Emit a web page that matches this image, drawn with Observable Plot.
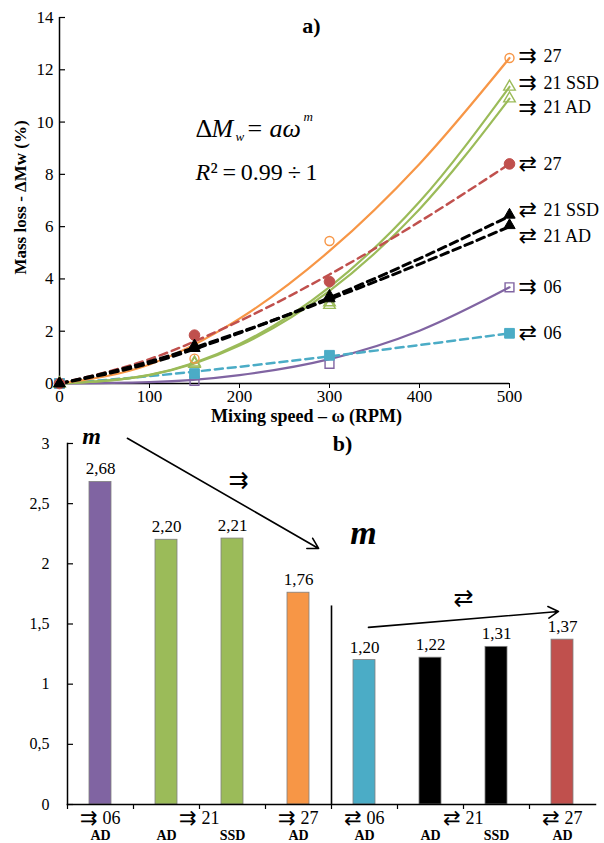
<!DOCTYPE html>
<html><head><meta charset="utf-8">
<script src="https://cdn.jsdelivr.net/npm/d3@7"></script>
<script src="https://cdn.jsdelivr.net/npm/@observablehq/plot@0.6"></script>
<style>
body{margin:0;background:#fff;overflow:hidden}
#chart svg{display:block}
</style>
</head><body><div id="chart"></div>
<script>
// ---------- DATA: panel a) ----------
const speeds = [0, 150, 300, 500];              // measured mixing speeds (RPM)
const fitSpeeds = [0, 100, 200, 300, 400, 500]; // speeds where the fitted curves were read
const xTicksA = [0, 100, 200, 300, 400, 500];
const yTicksA = [0, 2, 4, 6, 8, 10, 12, 14];

const measP27    = [0, 0.95, 5.45, 12.45];
const measP21SSD = [0, 0.80, 3.10, 11.35];
const measP21AD  = [0, 0.75, 3.00, 10.90];
const measP06    = [0, 0.10, 0.75, 3.68];
const measO27    = [0, 1.85, 3.90, 8.40];
const measO21SSD = [0, 1.45, 3.35, 6.45];
const measO21AD  = [0, 1.35, 3.25, 6.05];
const measO06    = [0, 0.38, 1.08, 1.92];

const fitP27    = [0, 0.73, 2.48, 5.07, 8.40, 12.45];
const fitP21SSD = [0, 0.33, 1.51, 3.69, 6.95, 11.35];
const fitP21AD  = [0, 0.32, 1.45, 3.54, 6.67, 10.90];
const fitP06    = [0, 0.05, 0.32, 0.93, 2.02, 3.68];
const fitO27    = [0, 0.93, 2.39, 4.17, 6.19, 8.40];
const fitO21SSD = [0, 0.77, 1.93, 3.28, 4.78, 6.40];
const fitO21AD  = [0, 0.84, 1.96, 3.22, 4.57, 6.00];
const fitO06    = [0, 0.28, 0.64, 1.04, 1.47, 1.92];

const seriesArrows = ["⇉", "⇄", "⇉", "⇉", "⇉", "⇄", "⇄", "⇄"];
const seriesNames  = ["06", "06", "21 AD", "21 SSD", "27", "27", "21 AD", "21 SSD"];

// ---------- DATA: panel b) ----------
const barCats = ["⇉06 AD", "⇉21 AD", "⇉21 SSD", "⇉27 AD", "⇄06 AD", "⇄21 AD", "⇄21 SSD", "⇄27 AD"];
const mValues = [2.68, 2.20, 2.21, 1.76, 1.20, 1.22, 1.31, 1.37];
const subLabels = ["AD", "AD", "SSD", "AD", "AD", "AD", "SSD", "AD"];
const groupArrows = ["⇉", "⇉", "⇉", "⇄", "⇄", "⇄"];
const groupNumbers = ["06", "21", "27", "06", "21", "27"];
const groupCats = ["⇉06 AD", "⇉21 AD", "⇉27 AD", "⇄06 AD", "⇄21 AD", "⇄27 AD"];
const yTicksB = [0, 0.5, 1, 1.5, 2, 2.5, 3];

// ---------- STYLES ----------
const serif = "'Liberation Serif','Times New Roman','DejaVu Serif',serif";
const arrowFont = "'DejaVu Sans',sans-serif";
const C = {orange:"#F79646", green:"#9BBB59", red:"#C0504D", black:"#000000", purple:"#8064A2", cyan:"#4BACC6"};
const seriesStyle = [
  {meas: measP06,    fit: fitP06,    color: C.purple, symbol: "square",   filled: false, dashed: false, r: 5,   labelDy: 0},
  {meas: measO06,    fit: fitO06,    color: C.cyan,   symbol: "square",   filled: true,  dashed: true,  r: 5.5, labelDy: 0},
  {meas: measP21AD,  fit: fitP21AD,  color: C.green,  symbol: "triangle", filled: false, dashed: false, r: 4.3, labelDy: 9},
  {meas: measP21SSD, fit: fitP21SSD, color: C.green,  symbol: "triangle", filled: false, dashed: false, r: 4.3, labelDy: -4},
  {meas: measP27,    fit: fitP27,    color: C.orange, symbol: "circle",   filled: false, dashed: false, r: 4.5, labelDy: -2},
  {meas: measO27,    fit: fitO27,    color: C.red,    symbol: "circle",   filled: true,  dashed: true,  r: 5.3, labelDy: 0},
  {meas: measO21AD,  fit: fitO21AD,  color: C.black,  symbol: "triangle", filled: true,  dashed: true,  r: 4.2, labelDy: 11},
  {meas: measO21SSD, fit: fitO21SSD, color: C.black,  symbol: "triangle", filled: true,  dashed: true,  r: 4.2, labelDy: -5}
];
seriesStyle.forEach((s, i) => { s.arrow = seriesArrows[i]; s.name = seriesNames[i]; });

const W = 604;
const mA = {top: 17, right: 95, bottom: 42, left: 59};
const HA = 425;
const frameWA = W - mA.left - mA.right;
const lastIdx = speeds.length - 1;

const lineMarks = seriesStyle.map(s => Plot.line(
  s.fit.map((v, i) => ({x: fitSpeeds[i], y: v})),
  {x: "x", y: "y", curve: "monotone-x", stroke: s.color,
   strokeWidth: s.dashed ? (s.color === C.black ? 3 : 2.5) : 2.2,
   strokeDasharray: s.dashed ? "8,5" : null}
));
const dotMarks = seriesStyle.map(s => Plot.dot(
  s.meas.map((v, i) => ({x: speeds[i], y: v})),
  {x: "x", y: "y", symbol: s.symbol, r: s.r,
   fill: s.filled ? s.color : "none", stroke: s.color, strokeWidth: s.filled ? 1 : 1.4}
));
const labelMarks = seriesStyle.flatMap(s => [
  Plot.text([s], {x: () => speeds[lastIdx], y: d => d.meas[lastIdx], text: "arrow", dx: 9, dy: s.labelDy,
    textAnchor: "start", lineAnchor: "middle", fontSize: 22, fontFamily: arrowFont}),
  Plot.text([s], {x: () => speeds[lastIdx], y: d => d.meas[lastIdx], text: "name", dx: 34, dy: s.labelDy,
    textAnchor: "start", lineAnchor: "middle", fontSize: 18, fontFamily: serif})
]);
const ann = (txt, o) => Plot.text([txt], {frameAnchor: "top-left", textAnchor: "start", lineAnchor: "middle", ...o});

const plotA = Plot.plot({
  width: W, height: HA,
  marginTop: mA.top, marginRight: mA.right, marginBottom: mA.bottom, marginLeft: mA.left,
  style: {fontFamily: serif, fontSize: "17px", color: "#000", background: "#fff", overflow: "visible"},
  x: {domain: [0, 500]},
  y: {domain: [0, 14]},
  marks: [
    Plot.axisX({ticks: xTicksA, tickSize: 5, tickPadding: 1, label: null, fontSize: 17}),
    Plot.axisY({ticks: yTicksA, tickSize: 0, tickPadding: 6, label: null, fontSize: 17}),
    Plot.tickY(yTicksA, {y: d => d, insetRight: frameWA - 6, stroke: "#000", strokeWidth: 1.2}),
    Plot.ruleX([0], {stroke: "#000", strokeWidth: 1.5}),
    Plot.ruleY([0], {stroke: "#000", strokeWidth: 1.5}),
    ...lineMarks,
    ...dotMarks,
    ...labelMarks,
    Plot.text(["Mass loss - ΔMw (%)"], {frameAnchor: "left", textAnchor: "middle", lineAnchor: "middle",
      dx: -39, dy: -3, rotate: -90, fontWeight: "bold", fontSize: 17}),
    Plot.text(["Mixing speed – ω (RPM)"], {frameAnchor: "bottom", textAnchor: "middle", lineAnchor: "middle",
      dy: 33, dx: 22, fontWeight: "bold", fontSize: 18}),
    ann("a)", {dx: 252, dy: 8, textAnchor: "middle", fontWeight: "bold", fontSize: 22}),
    // formula  ΔMw = aω^m
    ann("Δ", {dx: 136, dy: 111, fontSize: 26}),
    ann("M", {dx: 152, dy: 111, fontSize: 26, fontStyle: "italic"}),
    ann("w", {dx: 176, dy: 119, fontSize: 13, fontStyle: "italic"}),
    ann("=", {dx: 188, dy: 111, fontSize: 26}),
    ann("a", {dx: 210, dy: 111, fontSize: 26, fontStyle: "italic"}),
    ann("ω", {dx: 223, dy: 111, fontSize: 26, fontStyle: "italic"}),
    ann("m", {dx: 244, dy: 99, fontSize: 13, fontStyle: "italic"}),
    ann("R", {dx: 136, dy: 155, fontSize: 24, fontStyle: "italic"}),
    ann("²\u2009=\u20090.99\u2009÷\u20091", {dx: 151, dy: 155, fontSize: 24})
  ]
});

// ---------- panel b) ----------
const mB = {top: 18, right: 9, bottom: 39, left: 67};
const HB = 418;
const frameWB = W - mB.left - mB.right;
const frameHB = HB - mB.top - mB.bottom;
const halfBand = frameWB / barCats.length / 2;
const barColors = [C.purple, C.green, C.green, C.orange, C.cyan, C.black, C.black, C.red];
const bars = barCats.map((c, i) => ({cat: c, m: mValues[i], color: barColors[i], sub: subLabels[i]}));
const comma = d => String(d).replace(".", ",");
const groupMarks = groupCats.flatMap((c, i) => {
  const shift = groupNumbers[i] === "21" ? halfBand : 0;
  return [
    Plot.text([c], {x: d => d, text: () => groupArrows[i], frameAnchor: "bottom", textAnchor: "end", lineAnchor: "middle",
      dx: shift - 3, dy: 14, fontSize: 21, fontFamily: arrowFont}),
    Plot.text([c], {x: d => d, text: () => groupNumbers[i], frameAnchor: "bottom", textAnchor: "start", lineAnchor: "middle",
      dx: shift + 2, dy: 14, fontSize: 18, fontFamily: serif})
  ];
});
const annB = (txt, o) => Plot.text([txt], {frameAnchor: "top-left", textAnchor: "middle", lineAnchor: "middle", ...o});

const plotB = Plot.plot({
  width: W, height: HB,
  marginTop: mB.top, marginRight: mB.right, marginBottom: mB.bottom, marginLeft: mB.left,
  style: {fontFamily: serif, fontSize: "16px", color: "#000", background: "#fff", overflow: "visible"},
  x: {type: "band", domain: barCats, padding: 0, axis: null},
  y: {domain: [0, 3]},
  color: {type: "identity"},
  marks: [
    Plot.axisY({ticks: yTicksB, tickSize: 0, tickPadding: 18, tickFormat: comma, label: null, fontSize: 16}),
    Plot.tickY(yTicksB, {y: d => d, insetRight: frameWB - 6, stroke: "#000", strokeWidth: 1.2}),
    Plot.barY(bars, {x: "cat", y: "m", fill: "color", insetLeft: 22, insetRight: 22, stroke: "#7f7f7f", strokeWidth: 0.8}),
    Plot.frame({anchor: "left", stroke: "#000", strokeWidth: 1.5}),
    Plot.frame({anchor: "bottom", stroke: "#000", strokeWidth: 1.5}),
    Plot.tickX(barCats, {x: d => d, dx: -halfBand, insetTop: frameHB, insetBottom: -5, stroke: "#000", strokeWidth: 1.2}),
    Plot.ruleX([barCats[4]], {x: d => d, dx: -halfBand, y1: 0, y2: 1.65, stroke: "#000", strokeWidth: 1.6}),
    Plot.text(bars, {x: "cat", y: "m", text: d => d.m.toFixed(2).replace(".", ","), dy: -13, fontSize: 17}),
    ...groupMarks,
    Plot.text(bars, {x: "cat", text: "sub", frameAnchor: "bottom", lineAnchor: "middle", dy: 31, fontSize: 14, fontWeight: "bold"}),
    // annotations
    annB("m", {dx: 24, dy: -7, fontSize: 24, fontWeight: "bold", fontStyle: "italic"}),
    annB("m", {dx: 296, dy: 90, fontSize: 34, fontWeight: "bold", fontStyle: "italic"}),
    annB("b)", {dx: 275, dy: 0, fontSize: 22, fontWeight: "bold"}),
    annB("⇉", {dx: 171, dy: 37, fontSize: 24, fontFamily: arrowFont}),
    annB("⇄", {dx: 396, dy: 155, fontSize: 24, fontFamily: arrowFont}),
    Plot.arrow([{a: barCats[0], b: barCats[4], ya: 3.172, yb: 1.908}],
      {x1: "a", x2: "b", y1: "ya", y2: "yb", insetStart: 31, insetEnd: 53, stroke: "#000", strokeWidth: 1.6, headLength: 11}),
    Plot.arrow([{a: barCats[4], b: barCats[7], ya: 1.469, yb: 1.607}],
      {x1: "a", x2: "b", y1: "ya", y2: "yb", insetStart: 4, insetEnd: 4, stroke: "#000", strokeWidth: 1.6, headLength: 11})
  ]
});

document.getElementById("chart").append(plotA, plotB);
</script>
</body></html>
